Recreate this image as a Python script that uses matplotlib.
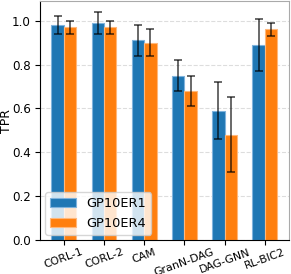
import matplotlib
matplotlib.use("Agg")
import matplotlib.pyplot as plt
import numpy as np

categories = ["CORL-1", "CORL-2", "CAM", "GranN-DAG", "DAG-GNN", "RL-BIC2"]
er1_vals = [0.98, 0.99, 0.91, 0.75, 0.59, 0.89]
er1_err = [0.04, 0.05, 0.07, 0.07, 0.13, 0.12]
er4_vals = [0.97, 0.97, 0.90, 0.68, 0.48, 0.96]
er4_err = [0.03, 0.03, 0.06, 0.07, 0.17, 0.03]
series_names = ["GP10ER1", "GP10ER4"]

fig = plt.figure(figsize=(2.91, 2.74), dpi=100)
ax = fig.add_axes([0.1375, 0.124, 0.854, 0.8724])

x = np.arange(len(categories))
w = 0.31
blue = "#1f77b4"
orange = "#ff7f0e"
ekw = dict(ecolor=(0, 0, 0, 0.75), elinewidth=1.1, capsize=3, capthick=1.1)
ax.bar(x - w / 2, er1_vals, w, yerr=er1_err, color=blue, edgecolor="#7fb3dd",
       linewidth=0.8, label=series_names[0], error_kw=ekw, zorder=2)
ax.bar(x + w / 2, er4_vals, w, yerr=er4_err, color=orange, edgecolor="#ffb77a",
       linewidth=0.8, label=series_names[1], error_kw=ekw, zorder=2)

ax.set_ylim(0, 1.09)
ax.set_yticks([0.0, 0.2, 0.4, 0.6, 0.8, 1.0])
ax.set_xticks(x)
ax.set_xticklabels(categories, rotation=20, fontsize=7.9)
ax.tick_params(axis="y", labelsize=8.6, length=3.5, pad=3)
ax.tick_params(axis="x", length=3.5, pad=1.5)
ax.set_ylabel("TPR", fontsize=9)
ax.yaxis.set_label_coords(-0.108, 0.5)
ax.yaxis.grid(True, linestyle="--", color="#dddddd", linewidth=0.8, zorder=0)
ax.set_axisbelow(True)
for s in ["top", "right"]:
    ax.spines[s].set_color("#aaaaaa")
for s in ["left", "bottom"]:
    ax.spines[s].set_color("black")

ax.legend(loc="lower left", fontsize=9.3, borderaxespad=0.4, handlelength=2.0)

fig.savefig("out.png", dpi=100)
